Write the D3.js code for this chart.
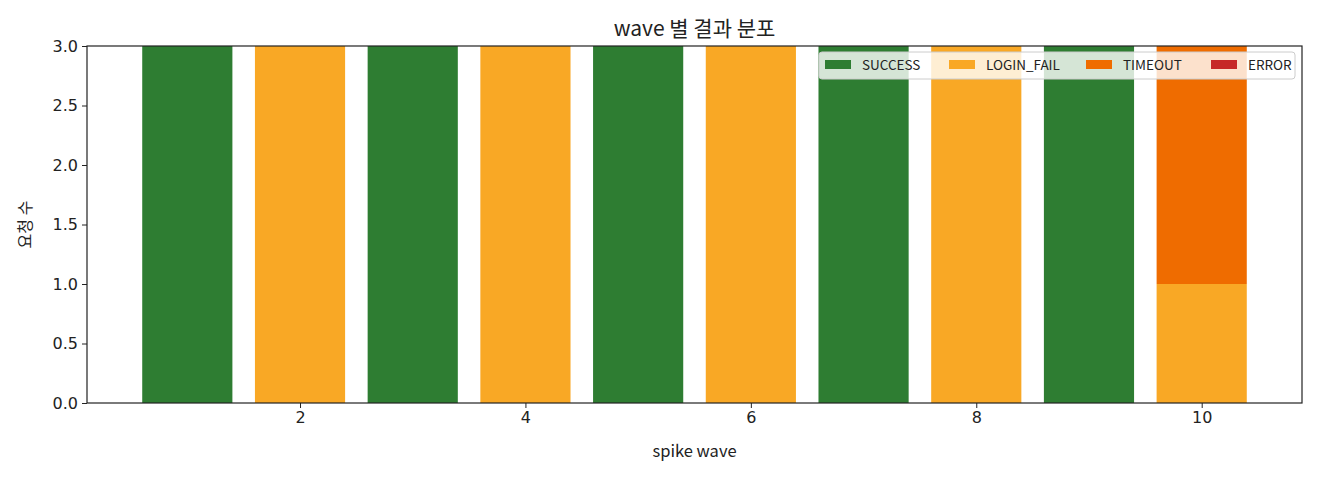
<!DOCTYPE html>
<html><head><meta charset="utf-8">
<script src="https://cdn.jsdelivr.net/npm/d3@7"></script>
<style>body{margin:0;background:#fff;} text{font-family:"Noto Sans CJK KR","DejaVu Sans",sans-serif;fill:#222;}</style>
</head><body>
<svg id="c" width="1320" height="480"></svg>
<script>
const waves = [1,2,3,4,5,6,7,8,9,10];
const seriesNames = ["SUCCESS","LOGIN_FAIL","TIMEOUT","ERROR"];
const success   = [3,0,3,0,3,0,3,0,3,0];
const loginFail = [0,3,0,3,0,3,0,3,0,1];
const timeout   = [0,0,0,0,0,0,0,0,0,2];
const errorVals = [0,0,0,0,0,0,0,0,0,0];
const colors = ["#2e7d32","#f9a825","#ef6c00","#c62828"];
const xTicks = [2,4,6,8,10];
const yTicks = [0,0.5,1,1.5,2,2.5,3];

const svg = d3.select("#c");
const L=87, R=1302, T=46, B=403;
const x = d3.scaleLinear().domain([0.11,10.89]).range([L,R]);
const y = d3.scaleLinear().domain([0,3]).range([B,T]);

const table = waves.map((w,i)=>({wave:w,SUCCESS:success[i],LOGIN_FAIL:loginFail[i],TIMEOUT:timeout[i],ERROR:errorVals[i]}));
const stacked = d3.stack().keys(seriesNames)(table);

const g = svg.append("g");
stacked.forEach((s,si)=>{
  g.selectAll(null).data(s.filter(d=>d[1]-d[0]>0)).enter().append("rect")
   .attr("x",d=>x(d.data.wave-0.4)).attr("width",d=>x(d.data.wave+0.4)-x(d.data.wave-0.4))
   .attr("y",d=>y(d[1])).attr("height",d=>y(d[0])-y(d[1]))
   .attr("fill",colors[si]);
});

const xa = svg.append("g").attr("transform",`translate(0,${B})`)
  .call(d3.axisBottom(x).tickValues(xTicks).tickSize(5).tickPadding(4).tickFormat(d3.format("d")));
const ya = svg.append("g").attr("transform",`translate(${L},0)`)
  .call(d3.axisLeft(y).tickValues(yTicks).tickSize(5).tickPadding(4).tickFormat(d3.format(".1f")));
[xa,ya].forEach(a=>{a.select(".domain").remove();a.selectAll("line").attr("stroke","#222");
  a.selectAll("text").style("font-size","16px").style("font-family","'DejaVu Sans',sans-serif").attr("fill","#222");});

svg.append("rect").attr("x",L).attr("y",T).attr("width",R-L).attr("height",B-T)
  .attr("fill","none").attr("stroke","#222").attr("stroke-width",1.2);

svg.append("text").attr("x",(L+R)/2).attr("y",36).attr("text-anchor","middle").style("font-size","21px").text("wave 별 결과 분포");
svg.append("text").attr("x",(L+R)/2).attr("y",457).attr("text-anchor","middle").style("font-size","16.5px").text("spike wave");
svg.append("text").attr("transform",`translate(31,${(T+B)/2}) rotate(-90)`).attr("text-anchor","middle").style("font-size","16px").text("요청 수");

// legend
const lg = svg.append("g");
lg.append("rect").attr("x",819).attr("y",52).attr("width",476).attr("height",27).attr("rx",3)
  .attr("fill","#fff").attr("fill-opacity",0.8).attr("stroke","#ccc");
const lx = [825,949,1086,1211];
seriesNames.forEach((n,i)=>{
  lg.append("rect").attr("x",lx[i]).attr("y",60).attr("width",26).attr("height",9).attr("fill",colors[i]);
  lg.append("text").attr("x",lx[i]+37).attr("y",70).style("font-size","13.5px").text(n);
});
</script>
</body></html>
